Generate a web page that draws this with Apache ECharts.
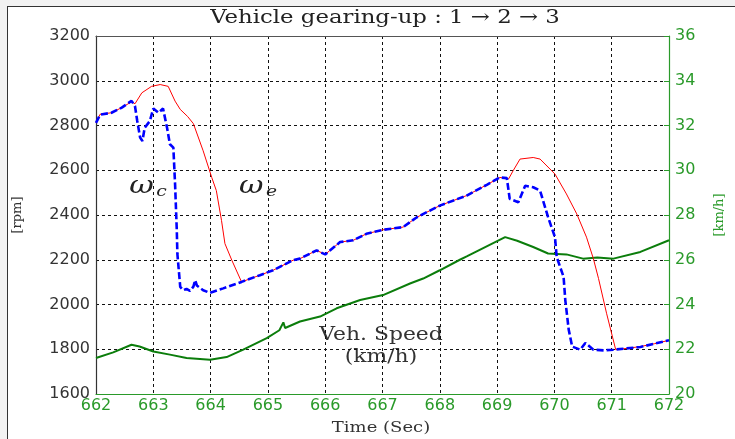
<!DOCTYPE html>
<html>
<head>
<meta charset="utf-8">
<script src="https://cdn.jsdelivr.net/npm/echarts@6/dist/echarts.min.js"></script>
<style>
  html, body { margin: 0; padding: 0; background: #f2f2f2; }
  #panel { position: absolute; left: 7px; top: 6px; width: 740px; height: 440px; background: #fff; border-left: 1px solid #333; border-top: 1px solid #333; }
  #main { position: absolute; left: 0; top: 0; width: 735px; height: 439px; }
</style>
</head>
<body>
<div id="panel"></div>
<div id="main"></div>
<script>
// axis ranges / ticks
const timeTicks = [662, 672, 1];
const rpmTicks = [1600, 3200, 200];
const speedTicks = [20, 36, 2];

// engine speed ω_e [time, rpm]
const omegaE = [
  [662.0, 2812], [662.07, 2850], [662.27, 2857], [662.45, 2880], [662.62, 2906], [662.68, 2897],
  [662.8, 2946], [662.97, 2975], [663.12, 2983], [663.26, 2975], [663.38, 2909], [663.47, 2872],
  [663.6, 2840], [663.7, 2808], [663.87, 2687], [664.02, 2568], [664.1, 2509], [664.19, 2376],
  [664.25, 2272], [664.37, 2198], [664.54, 2101], [664.86, 2131], [665.09, 2153], [665.44, 2198],
  [665.56, 2205], [665.85, 2242], [666.0, 2224], [666.26, 2279], [666.49, 2287], [666.72, 2316],
  [667.01, 2334], [667.36, 2346], [667.6, 2390], [668.0, 2442], [668.47, 2487], [668.82, 2535],
  [669.05, 2568], [669.2, 2561], [669.28, 2598], [669.4, 2650], [669.63, 2657], [669.75, 2650],
  [670.01, 2583], [670.21, 2494], [670.39, 2405], [670.56, 2301], [670.68, 2205], [670.77, 2116],
  [670.91, 1961], [671.07, 1798], [671.3, 1805], [671.5, 1812], [671.75, 1825], [672.0, 1840]
];

// clutch speed ω_c [time, rpm]
const omegaC = [
  [662.0, 2812], [662.07, 2848], [662.27, 2857], [662.45, 2880], [662.62, 2910], [662.68, 2887],
  [662.72, 2820], [662.77, 2746], [662.81, 2731], [662.85, 2790], [662.94, 2820], [663.0, 2876],
  [663.09, 2857], [663.17, 2876], [663.24, 2790], [663.29, 2716], [663.35, 2701], [663.38, 2538],
  [663.41, 2331], [663.42, 2227], [663.47, 2079], [663.52, 2064], [663.58, 2070], [663.64, 2061],
  [663.7, 2080], [663.73, 2109], [663.76, 2085], [663.87, 2064], [663.99, 2052], [664.22, 2072],
  [664.54, 2101], [664.86, 2131], [665.09, 2153], [665.44, 2198], [665.56, 2205], [665.85, 2242],
  [666.0, 2224], [666.26, 2279], [666.49, 2287], [666.72, 2316], [667.01, 2334], [667.36, 2346],
  [667.6, 2390], [668.0, 2442], [668.47, 2487], [668.82, 2535], [669.05, 2568], [669.17, 2565],
  [669.22, 2472], [669.37, 2457], [669.49, 2531], [669.63, 2524], [669.75, 2509], [669.89, 2390],
  [670.01, 2301], [670.04, 2212], [670.16, 2124], [670.19, 2020], [670.25, 1887], [670.31, 1812],
  [670.45, 1798], [670.54, 1828], [670.68, 1798], [670.86, 1795], [671.03, 1798], [671.5, 1810],
  [672.0, 1840]
];

// vehicle speed [time, km/h]
const vehSpeed = [
  [662.0, 21.61], [662.3, 21.86], [662.62, 22.2], [662.76, 22.12], [663.0, 21.9], [663.29, 21.76],
  [663.58, 21.61], [663.99, 21.53], [664.28, 21.65], [664.57, 21.98], [664.98, 22.5], [665.2, 22.85],
  [665.27, 23.2], [665.3, 22.95], [665.56, 23.24], [665.91, 23.46], [666.2, 23.83], [666.61, 24.2],
  [667.01, 24.42], [667.48, 24.94], [667.71, 25.16], [668.0, 25.53], [668.35, 26.0], [668.47, 26.15],
  [669.14, 27.01], [669.35, 26.85], [669.63, 26.57], [669.89, 26.28], [670.21, 26.24], [670.5, 26.05],
  [670.75, 26.1], [671.03, 26.05], [671.5, 26.35], [672.0, 26.87]
];

const GREEN = '#2a9a2a';
const serif = "'DejaVu Serif', 'Liberation Serif', serif";
const sans = "'DejaVu Sans', 'Liberation Sans', sans-serif";

const chart = echarts.init(document.getElementById('main'));

const gridDash = { show: true, lineStyle: { color: '#111', type: [3, 3], width: 1 } };
const plain = v => String(v);

// stretched serif text like the original figure
function stext(x, y, text, size, sx, color, extra) {
  return Object.assign({
    type: 'text', x: x, y: y, scaleX: sx,
    style: Object.assign({
      text: text, textAlign: 'center', textVerticalAlign: 'middle',
      fontFamily: serif, fontSize: size, fill: color
    }, extra || {})
  });
}

function omega(x, sub) {
  return {
    type: 'text', x: x, y: 187, scaleX: 1.25,
    style: {
      text: '{w|\u03c9}{s|' + sub + '}', textAlign: 'center', textVerticalAlign: 'middle',
      rich: {
        w: { fontFamily: serif, fontStyle: 'italic', fontSize: 24, fill: '#222' },
        s: { fontFamily: serif, fontStyle: 'italic', fontSize: 15, fill: '#222', padding: [11, 0, 0, 2] }
      }
    }
  };
}

const option = {
  animation: false,
  grid: { left: 96, right: 66, top: 36, bottom: 45 },
  xAxis: [{
    type: 'value', min: timeTicks[0], max: timeTicks[1], interval: timeTicks[2],
    axisLine: { lineStyle: { color: GREEN, width: 1.2 } },
    axisTick: { show: false },
    axisLabel: { color: GREEN, fontFamily: sans, fontSize: 16, margin: 4, formatter: plain },
    splitLine: gridDash
  }, {
    type: 'value', position: 'top', min: timeTicks[0], max: timeTicks[1], interval: timeTicks[2],
    axisLine: { lineStyle: { color: '#555', width: 1.2 } },
    axisTick: { show: false }, axisLabel: { show: false }, splitLine: { show: false }
  }],
  yAxis: [{
    type: 'value', min: rpmTicks[0], max: rpmTicks[1], interval: rpmTicks[2],
    name: '[rpm]', nameLocation: 'middle', nameGap: 72, nameRotate: 90,
    nameTextStyle: { fontFamily: serif, fontSize: 13, color: '#333' },
    axisLine: { show: true, lineStyle: { color: '#333', width: 1.2 } },
    axisTick: { show: false },
    axisLabel: { color: '#333', fontFamily: sans, fontSize: 16, margin: 6, formatter: plain },
    splitLine: gridDash
  }, {
    type: 'value', position: 'right', min: speedTicks[0], max: speedTicks[1], interval: speedTicks[2],
    name: '[km/h]', nameLocation: 'middle', nameGap: 44, nameRotate: 90,
    nameTextStyle: { fontFamily: serif, fontSize: 13, color: GREEN },
    axisLine: { show: true, lineStyle: { color: GREEN, width: 1.2 } },
    axisTick: { show: true, inside: true, length: 5, lineStyle: { color: GREEN } },
    axisLabel: { color: GREEN, fontFamily: sans, fontSize: 16, margin: 6, formatter: plain },
    splitLine: { show: false }
  }],
  series: [{
    name: 'omega_e', type: 'line', data: omegaE, showSymbol: false,
    lineStyle: { color: '#ff0000', width: 1 }, z: 3
  }, {
    name: 'omega_c', type: 'line', data: omegaC, showSymbol: false,
    lineStyle: { color: '#0000ff', width: 2.6, type: [7, 3] }, z: 4
  }, {
    name: 'speed', type: 'line', yAxisIndex: 1, data: vehSpeed, showSymbol: false,
    lineStyle: { color: '#0b7d0b', width: 2 }, z: 2
  }],
  graphic: [
    stext(385, 18, 'Vehicle gearing-up : 1 \u2192 2 \u2192 3', 19, 1.2, '#222'),
    stext(381, 428, 'Time (Sec)', 15, 1.2, '#333'),
    omega(148, 'c'),
    omega(258, 'e'),
    stext(381, 346, 'Veh. Speed\n(km/h)', 19, 1.15, '#333', { lineHeight: 22 })
  ]
};

chart.setOption(option);
</script>
</body>
</html>
